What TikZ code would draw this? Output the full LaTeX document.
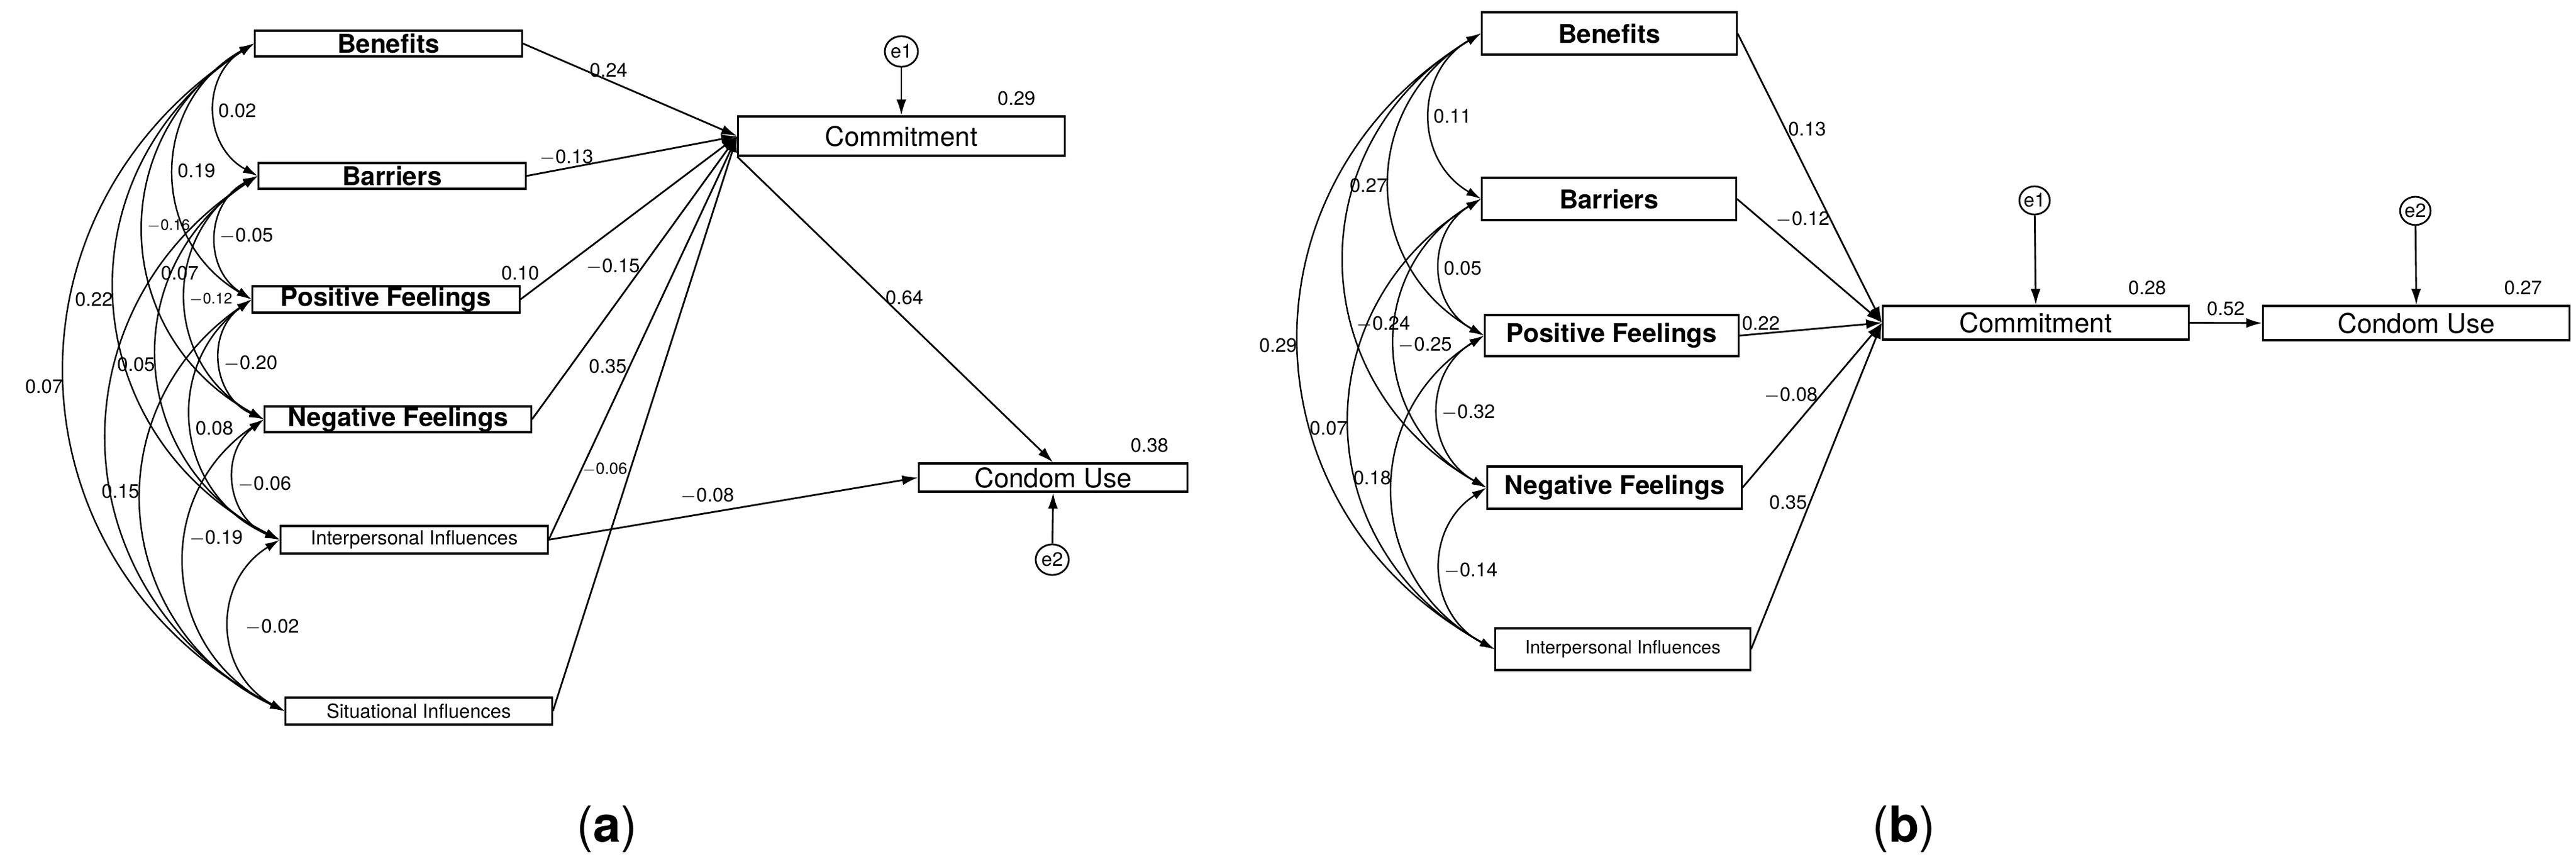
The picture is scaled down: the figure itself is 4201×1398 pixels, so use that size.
\documentclass[tikz,border=0pt]{standalone}
\usepackage{fontspec}
\setmainfont{TeX Gyre Heros}
\usetikzlibrary{positioning, shapes.geometric, arrows.meta}

\begin{document}
\begin{tikzpicture}[x=0.01cm, y=-0.01cm, every node/.style={font=\fontsize{9}{10}\selectfont}]
  % Styles
  \tikzset{
    var/.style = {draw, shape=rectangle, line width=0.9pt, inner sep=0pt, font=\fontsize{12}{14}\selectfont\bfseries},
    smallvar/.style = {var, font=\fontsize{9}{10}\selectfont},
    outcome/.style = {var, font=\fontsize{12.5}{14}\selectfont},
    err/.style = {draw, shape=ellipse, line width=0.8pt, inner sep=0pt, minimum width=5.4mm, minimum height=5mm, font=\fontsize{9}{10}\selectfont},
    path/.style = {-{Latex[length=2.6mm, width=1.6mm]}, line width=0.8pt},
    cov/.style = {{Latex[length=2.4mm, width=1.4mm]}-{Latex[length=2.4mm, width=1.4mm]}, line width=0.7pt, bend right=60, looseness=1.2},
    coef/.style = {inner sep=1pt, font=\fontsize{9}{10}\selectfont}
  }
  \useasboundingbox (0,0) rectangle (4201,1398);

  % (a) Variables
  \node[var, minimum width=4.35cm, minimum height=4.2mm] (BenA) at (633.5,71) {Benefits};
  \node[var, minimum width=4.35cm, minimum height=4.2mm] (BarA) at (639.5,287) {Barriers};
  \node[var, minimum width=4.35cm, minimum height=4.3mm] (PosA) at (629.5,488.5) {Positive Feelings};
  \node[var, minimum width=4.34cm, minimum height=4.2mm] (NegA) at (649,684) {Negative Feelings};
  \node[smallvar, minimum width=4.35cm, minimum height=4.5mm] (IntA) at (675.5,880.5) {Interpersonal Influences};
  \node[smallvar, minimum width=4.34cm, minimum height=4.4mm] (SitA) at (683,1160) {Situational Influences};
  \node[outcome, minimum width=5.32cm, minimum height=6.4mm] (ComA) at (1470,222) {Commitment};
  \node[outcome, minimum width=4.37cm, minimum height=4.6mm] (CUA) at (1717.5,779) {Condom Use};
  \node[err] (e1A) at (1470,84) {e1};
  \node[err] (e2A) at (1716,913) {e2};
  \node[coef, above left=0.12cm and 0.45cm of ComA.north east] (R2ComA) {0.29};
  \node[coef, above left=0.12cm and 0.28cm of CUA.north east] (R2CUA) {0.38};

  % (a) Covariances
  \draw[cov] (BenA.west) to node[coef, pos=.5, anchor=west] {0.02} (BarA.west);
  \draw[cov] (BarA.west) to node[coef, pos=.5, anchor=west] {$-$0.05} (PosA.west);
  \draw[cov] (PosA.west) to node[coef, pos=.5, anchor=west] {$-$0.20} (NegA.west);
  \draw[cov] (NegA.west) to node[coef, pos=.5, anchor=west] {$-$0.06} (IntA.west);
  \draw[cov] (IntA.west) to node[coef, pos=.5, anchor=west, xshift=6pt] {$-$0.02} (SitA.west);
  \draw[cov] (BenA.west) to node[coef, pos=.5, anchor=west] {0.19} (PosA.west);
  \draw[cov] (BarA.west) to node[coef, pos=.5, anchor=west, font=\fontsize{7}{8}\selectfont] {$-$0.12} (NegA.west);
  \draw[cov] (PosA.west) to node[coef, pos=.5, anchor=west] {0.08} (IntA.west);
  \draw[cov] (NegA.west) to node[coef, pos=.4, anchor=west] {$-$0.19} (SitA.west);
  \draw[cov] (BenA.west) to node[coef, pos=.48, anchor=west, font=\fontsize{7}{8}\selectfont] {$-$0.16} (NegA.west);
  \draw[cov] (BarA.west) to node[coef, pos=.5, anchor=east] {0.05} (IntA.west);
  \draw[cov] (PosA.west) to node[coef, pos=.45, anchor=east] {0.15} (SitA.west);
  \draw[cov] (BenA.west) to node[coef, pos=.5, anchor=east] {0.22} (IntA.west);
  \draw[cov] (BarA.west) to node[coef, pos=.2, anchor=west] {0.07} (SitA.west);
  \draw[cov] (BenA.west) to node[coef, pos=.5, anchor=east] {0.07} (SitA.west);

  % (a) Paths
  \draw[path] (BenA.east) -- node[coef, pos=.4, above] {0.24} (ComA.west);
  \draw[path] (BarA.east) -- node[coef, pos=.19, above] {$-$0.13} (ComA.west);
  \draw[path] (PosA.east) -- node[coef, pos=.1, above left] {0.10} (ComA.west);
  \draw[path] (NegA.east) -- node[coef, pos=.54, anchor=east] {$-$0.15} (ComA.west);
  \draw[path] (IntA.east) -- node[coef, pos=.43, anchor=east] {0.35} (ComA.west);
  \draw[path] (SitA.east) -- node[coef, pos=.42, anchor=east, font=\fontsize{7.5}{8}\selectfont] {$-$0.06} (ComA.west);
  \draw[path] (IntA.east) -- node[coef, pos=.43, above=3pt] {$-$0.08} (CUA.west);
  \draw[path] (ComA.south west) -- node[coef, pos=.46, anchor=west] {0.64} (CUA.north);
  \draw[path] (e1A) -- (ComA.north);
  \draw[path] (e2A) -- (CUA.south);

  % (b) Variables
  \node[var, minimum width=4.15cm, minimum height=6.9mm] (BenB) at (2624.5,54.5) {Benefits};
  \node[var, minimum width=4.14cm, minimum height=6.9mm] (BarB) at (2624,324.5) {Barriers};
  \node[var, minimum width=4.13cm, minimum height=6.7mm] (PosB) at (2628.5,547.5) {Positive Feelings};
  \node[var, minimum width=4.14cm, minimum height=6.9mm] (NegB) at (2633,795.5) {Negative Feelings};
  \node[smallvar, minimum width=4.15cm, minimum height=6.8mm, font=\fontsize{8.5}{10}\selectfont] (IntB) at (2646.5,1059) {Interpersonal Influences};
  \node[outcome, minimum width=4.98cm, minimum height=5.5mm] (ComB) at (3320,526.5) {Commitment};
  \node[outcome, minimum width=4.99cm, minimum height=5.6mm] (CUB) at (3940.5,527) {Condom Use};
  \node[err, minimum width=4.6mm, minimum height=4.6mm] (e1B) at (3318,327) {e1};
  \node[err, minimum width=4.6mm, minimum height=4.6mm] (e2B) at (3939,344) {e2};
  \node[coef, above left=0.12cm and 0.34cm of ComB.north east] (R2ComB) {0.28};
  \node[coef, above left=0.12cm and 0.42cm of CUB.north east] (R2CUB) {0.27};

  % (b) Covariances
  \draw[cov] (BenB.west) to node[coef, pos=.5, anchor=west] {0.11} (BarB.west);
  \draw[cov] (BarB.west) to node[coef, pos=.5, anchor=west] {0.05} (PosB.west);
  \draw[cov] (PosB.west) to node[coef, pos=.5, anchor=west] {$-$0.32} (NegB.west);
  \draw[cov] (NegB.west) to node[coef, pos=.5, anchor=west] {$-$0.14} (IntB.west);
  \draw[cov] (BenB.west) to node[coef, pos=.5, anchor=east] {0.27} (PosB.west);
  \draw[cov] (BarB.west) to node[coef, pos=.5, anchor=west] {$-$0.25} (NegB.west);
  \draw[cov] (PosB.west) to node[coef, pos=.45, anchor=east] {0.18} (IntB.west);
  \draw[cov] (BenB.west) to node[coef, pos=.62, anchor=west] {$-$0.24} (NegB.west);
  \draw[cov] (BarB.west) to node[coef, pos=.5, anchor=east] {0.07} (IntB.west);
  \draw[cov] (BenB.west) to node[coef, pos=.5, anchor=east] {0.29} (IntB.west);

  % (b) Paths
  \draw[path] (BenB.east) -- node[coef, pos=.33, anchor=west] {0.13} (ComB.west);
  \draw[path] (BarB.east) -- node[coef, pos=.25, anchor=south west] {$-$0.12} (ComB.west);
  \draw[path] (PosB.east) -- node[coef, pos=.15, above] {0.22} (ComB.west);
  \draw[path] (NegB.east) -- node[coef, pos=.56, anchor=east] {$-$0.08} (ComB.west);
  \draw[path] (IntB.east) -- node[coef, pos=.45, anchor=east] {0.35} (ComB.west);
  \draw[path] (ComB.east) -- node[coef, pos=.5, above=2pt] {0.52} (CUB.west);
  \draw[path] (e1B) -- (ComB.north);
  \draw[path] (e2B) -- (CUB.north);

  % Captions
  \node[font=\fontsize{23}{26}\selectfont] (capA) at (990,1353) {(\textbf{a})};
  \node[font=\fontsize{23}{26}\selectfont] (capB) at (3105,1353) {(\textbf{b})};
\end{tikzpicture}
\end{document}
